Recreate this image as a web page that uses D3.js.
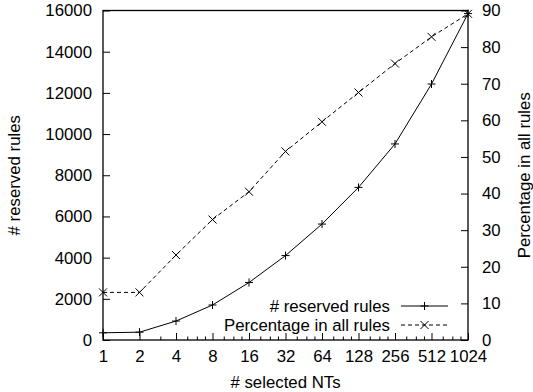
<!DOCTYPE html>
<html>
<head>
<meta charset="utf-8">
<script src="https://cdnjs.cloudflare.com/ajax/libs/d3/7.8.5/d3.min.js"></script>
<style>
  html, body { margin: 0; padding: 0; background: #fff; }
  svg { display: block; font-family: "Liberation Sans", Arial, sans-serif; }
  .line { fill: none; stroke: #000; stroke-width: 1; }
  .dashed { stroke-dasharray: 4,3; }
  .mark { fill: none; stroke: #000; stroke-width: 1; }
</style>
</head>
<body>
<div id="chart"></div>
<script>
// values
const nts = [1, 2, 4, 8, 16, 32, 64, 128, 256, 512, 1024];
const reservedRules = [350, 380, 920, 1700, 2790, 4100, 5630, 7410, 9520, 12430, 15850];
const percentage = [13, 13, 23.2, 32.9, 40.5, 51.5, 59.6, 67.6, 75.5, 82.8, 89.1];

const leftTicks = [0, 2000, 4000, 6000, 8000, 10000, 12000, 14000, 16000];
const rightTicks = [0, 10, 20, 30, 40, 50, 60, 70, 80, 90];
const xTicks = nts;

const labels = {
  x: '# selected NTs',
  yLeft: '# reserved rules',
  yRight: 'Percentage in all rules',
  rules: '# reserved rules',
  pct: 'Percentage in all rules'
};

const W = 533, H = 392;
const plot = {left: 103, right: 468, top: 10.5, bottom: 340};
const fontSize = 16.8;

let svg = d3.select('#chart')
  .append('svg')
    .attr('width', W)
    .attr('height', H);

let x = d3.scaleLog().base(2).domain([1, 1024]).range([plot.left, plot.right]);
let yL = d3.scaleLinear().domain([0, 16000]).range([plot.bottom, plot.top]);
let yR = d3.scaleLinear().domain([0, 90]).range([plot.bottom, plot.top]);

// minor ticks on the log axis: quarters of each doubling (only integers at the low end)
let minor = [];
for (let ii = 0; ii < xTicks.length - 1; ii++) {
  let a = xTicks[ii];
  [1.25, 1.5, 1.75].forEach(f => {
    let v = a * f;
    if (Number.isInteger(v)) minor.push(v);
  });
}

svg.append('g')
  .attr('class', 'minor')
  .selectAll('line')
  .data(minor)
  .enter()
  .append('line')
    .attr('x1', d => x(d))
    .attr('x2', d => x(d))
    .attr('y1', plot.bottom)
    .attr('y2', plot.bottom - 3.5)
    .attr('stroke', '#000');

function styleAxis(g) {
  g.select('.domain').remove();
  g.selectAll('text')
    .style('font-size', fontSize + 'px')
    .style('font-family', '"Liberation Sans", Arial, sans-serif')
    .attr('fill', '#000');
  g.selectAll('.tick line').attr('stroke', '#000');
}

svg.append('g')
  .attr('transform', `translate(${plot.left},0)`)
  .call(d3.axisLeft(yL).tickValues(leftTicks).tickSize(-7).tickPadding(11).tickFormat(d3.format('d')))
  .call(styleAxis);

svg.append('g')
  .attr('transform', `translate(${plot.right},0)`)
  .call(d3.axisRight(yR).tickValues(rightTicks).tickSize(-7).tickPadding(14).tickFormat(d3.format('d')))
  .call(styleAxis);

svg.append('g')
  .attr('transform', `translate(0,${plot.bottom})`)
  .call(d3.axisBottom(x).tickValues(xTicks).tickSize(-7).tickPadding(10).tickFormat(d3.format('d')))
  .call(styleAxis);

// border
svg.append('rect')
  .attr('x', plot.left)
  .attr('y', plot.top)
  .attr('width', plot.right - plot.left)
  .attr('height', plot.bottom - plot.top)
  .attr('fill', 'none')
  .attr('stroke', '#000')
  .attr('stroke-width', 1.3);

// axis titles
svg.append('text')
  .attr('x', (plot.left + plot.right) / 2)
  .attr('y', 388)
  .attr('text-anchor', 'middle')
  .style('font-size', fontSize + 'px')
  .text(labels.x);

svg.append('text')
  .attr('transform', `translate(20,${(plot.top + plot.bottom) / 2}) rotate(-90)`)
  .attr('text-anchor', 'middle')
  .style('font-size', fontSize + 'px')
  .text(labels.yLeft);

svg.append('text')
  .attr('transform', `translate(529.5,${(plot.top + plot.bottom) / 2}) rotate(-90)`)
  .attr('text-anchor', 'middle')
  .style('font-size', fontSize + 'px')
  .text(labels.yRight);

// series
let rulesData = nts.map((n, i) => ({x: n, y: reservedRules[i]}));
let pctData = nts.map((n, i) => ({x: n, y: percentage[i]}));

const plus = 'M-4,0H4M0,-4V4';
const cross = 'M-4,-4L4,4M-4,4L4,-4';

svg.append('path')
  .datum(rulesData)
  .attr('class', 'line')
  .attr('d', d3.line().x(d => x(d.x)).y(d => yL(d.y)));

svg.append('path')
  .datum(pctData)
  .attr('class', 'line dashed')
  .attr('d', d3.line().x(d => x(d.x)).y(d => yR(d.y)));

svg.selectAll('.pr')
  .data(rulesData)
  .enter()
  .append('path')
    .attr('class', 'mark pr')
    .attr('transform', d => `translate(${x(d.x)},${yL(d.y)})`)
    .attr('d', plus);

svg.selectAll('.px')
  .data(pctData)
  .enter()
  .append('path')
    .attr('class', 'mark px')
    .attr('transform', d => `translate(${x(d.x)},${yR(d.y)})`)
    .attr('d', cross);

// legend
let legend = svg.append('g');
let rows = [
  {label: labels.rules, dashed: false, mark: plus, y: 306},
  {label: labels.pct, dashed: true, mark: cross, y: 325}
];
rows.forEach(r => {
  legend.append('text')
    .attr('x', 390)
    .attr('y', r.y)
    .attr('dy', '0.35em')
    .attr('text-anchor', 'end')
    .style('font-size', fontSize + 'px')
    .text(r.label);
  legend.append('line')
    .attr('class', r.dashed ? 'line dashed' : 'line')
    .attr('x1', 401)
    .attr('x2', 448)
    .attr('y1', r.y)
    .attr('y2', r.y);
  legend.append('path')
    .attr('class', 'mark')
    .attr('transform', `translate(424.5,${r.y})`)
    .attr('d', r.mark);
});
</script>
</body>
</html>
